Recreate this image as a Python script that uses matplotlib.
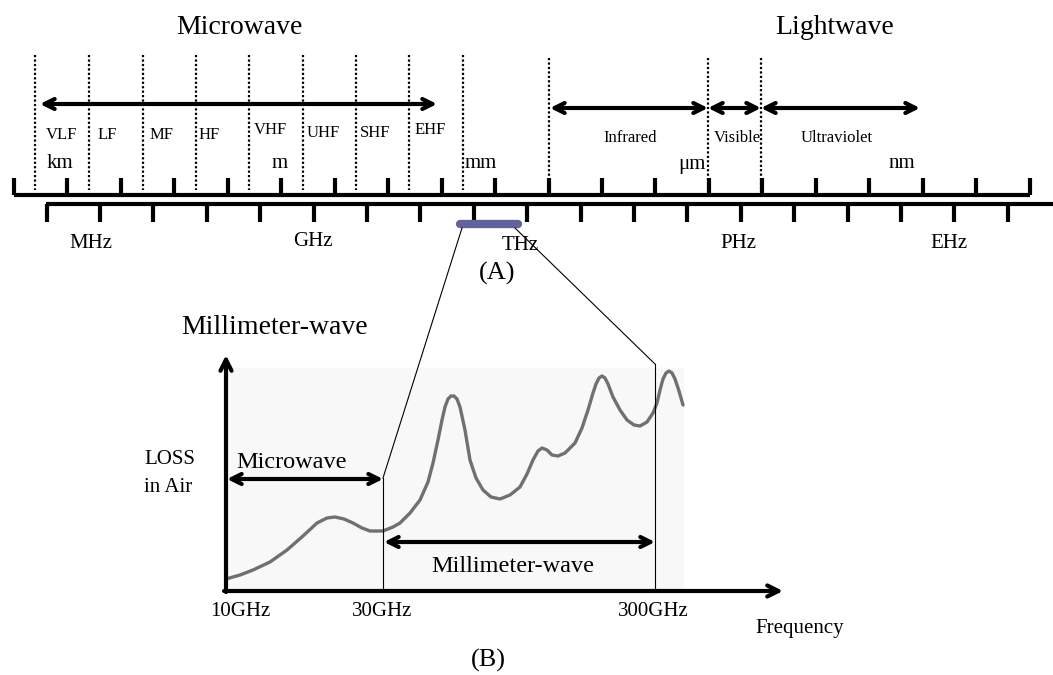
import matplotlib.pyplot as plt
from matplotlib.patches import Rectangle
import numpy as np

plt.rcParams['font.family'] = ['Liberation Serif', 'DejaVu Serif']

# labels of the spectrum diagram
bands = ['VLF', 'LF', 'MF', 'HF', 'VHF', 'UHF', 'SHF', 'EHF']
light_bands = ['Infrared', 'Visible', 'Ultraviolet']
wave_units = ['km', 'm', 'mm', 'μm', 'nm']
freq_units = ['MHz', 'GHz', 'THz', 'PHz', 'EHz']
freq_ticks = ['10GHz', '30GHz', '300GHz']

# loss in air curve (pixel coords)
loss_x = [226, 240, 253, 270, 287, 303, 317, 327, 335, 344, 353, 362, 370, 383,
          393, 400, 410, 420, 428, 433, 438, 442, 445, 448, 451, 454, 457, 460,
          465, 470, 476, 483, 491, 500, 510, 520, 527, 533, 538, 542, 547, 552,
          558, 565, 575, 582, 588, 593, 596, 599, 602, 605, 608, 613, 620, 627,
          634, 640, 647, 653, 657, 660, 663, 666, 669, 672, 675, 679, 683]
loss_y = [579, 575, 570, 562, 550, 536, 523, 518, 517, 519, 523, 528, 531, 531,
          527, 523, 513, 500, 482, 463, 440, 420, 407, 399, 396, 396, 399, 407,
          430, 460, 478, 490, 497, 499, 495, 487, 474, 460, 451, 448, 450, 455,
          456, 453, 443, 428, 410, 393, 384, 378, 376, 378, 384, 397, 410, 420,
          425, 426, 422, 413, 403, 390, 379, 373, 371, 373, 379, 391, 405]

fig = plt.figure(figsize=(10.53, 6.75), dpi=100)
ax = fig.add_axes([0, 0, 1, 1])
ax.set_xlim(0, 1053)
ax.set_ylim(675, 0)
ax.axis('off')

K = 'black'

# ---- (A) spectrum scales ----
ax.text(239, 28, 'Microwave', fontsize=20, ha='center', va='center')
ax.text(835, 28, 'Lightwave', fontsize=20, ha='center', va='center')

top_y, bot_y = 195, 204
ax.plot([14, 1030], [top_y, top_y], color=K, lw=3, solid_capstyle='butt')
for x in 14 + 53.45 * np.arange(20):
    ax.plot([x, x], [top_y, 178], color=K, lw=3, solid_capstyle='butt')
ax.plot([46, 1053], [bot_y, bot_y], color=K, lw=3, solid_capstyle='butt')
for x in 46.5 + 53.4 * np.arange(19):
    ax.plot([x, x], [bot_y, 222], color=K, lw=3, solid_capstyle='butt')

# dotted band borders
for x in [35, 89, 143, 196, 249, 303, 356, 409, 463]:
    ax.plot([x, x], [55, 190], color=K, lw=1.6, ls=(0, (1, 1)))
for x in [549, 708, 761]:
    ax.plot([x, x], [58, 192], color=K, lw=1.6, ls=(0, (1, 1)))

aprops = dict(arrowstyle='<->', lw=3, color=K, mutation_scale=18,
              shrinkA=0, shrinkB=0)
ax.annotate('', xy=(437, 104), xytext=(40, 104), arrowprops=aprops)
for x0, x1 in [(550, 708), (708, 761), (761, 920)]:
    ax.annotate('', xy=(x1, 108), xytext=(x0, 108), arrowprops=aprops)

band_x = [62, 107, 162, 209, 270, 323, 375, 430]
band_y = [135, 135, 135, 135, 130, 133, 133, 130]
for lab, x, y in zip(bands, band_x, band_y):
    ax.text(x, y, lab, fontsize=12, ha='center', va='center')
for lab, x in zip(light_bands, [630, 737, 837]):
    ax.text(x, 138, lab, fontsize=12, ha='center', va='center')
for lab, x in zip(wave_units, [60, 280, 481, 692, 902]):
    ax.text(x, 164, lab, fontsize=15, ha='center', va='center')
for lab, x, y in zip(freq_units, [91, 313, 520, 738, 949],
                     [244, 242, 246, 244, 244]):
    ax.text(x, y, lab, fontsize=15, ha='center', va='center')

# zoomed millimeter-wave window
ax.plot([460, 518], [224, 224], color='#62629c', lw=6, solid_capstyle='round')
ax.plot([462, 383], [228, 478], color=K, lw=0.8)
ax.plot([515, 655], [228, 364], color=K, lw=0.8)
ax.text(497, 273, '(A)', fontsize=19, ha='center', va='center')

# ---- (B) loss in air ----
ax.add_patch(Rectangle((227, 368), 456, 223, color='#f8f8f8', zorder=0))
ax.text(275, 327, 'Millimeter-wave', fontsize=20, ha='center', va='center')
ax.text(144, 460, 'LOSS', fontsize=15, ha='left', va='center')
ax.text(144, 487, 'in Air', fontsize=15, ha='left', va='center')

ax.plot(loss_x, loss_y, color='#707070', lw=2.4, solid_joinstyle='round',
        solid_capstyle='round')

ax.plot([383, 383], [478, 591], color=K, lw=0.8)
ax.plot([655, 655], [364, 591], color=K, lw=0.8)

axprops = dict(arrowstyle='->', lw=3, color=K, mutation_scale=20,
               shrinkA=0, shrinkB=0)
ax.annotate('', xy=(226, 355), xytext=(226, 592), arrowprops=axprops)
ax.annotate('', xy=(783, 591), xytext=(224, 591), arrowprops=axprops)

ax.annotate('', xy=(383, 479), xytext=(227, 479), arrowprops=aprops)
ax.text(292, 462, 'Microwave', fontsize=17.5, ha='center', va='center')
ax.annotate('', xy=(655, 542), xytext=(384, 542), arrowprops=aprops)
ax.text(513, 566, 'Millimeter-wave', fontsize=17.5, ha='center', va='center')

for lab, x in zip(freq_ticks, [240, 382, 653]):
    ax.text(x, 612, lab, fontsize=15, ha='center', va='center')
ax.text(800, 628, 'Frequency', fontsize=15, ha='center', va='center')
ax.text(488, 660, '(B)', fontsize=19, ha='center', va='center')

plt.savefig('out.png', dpi=100)
